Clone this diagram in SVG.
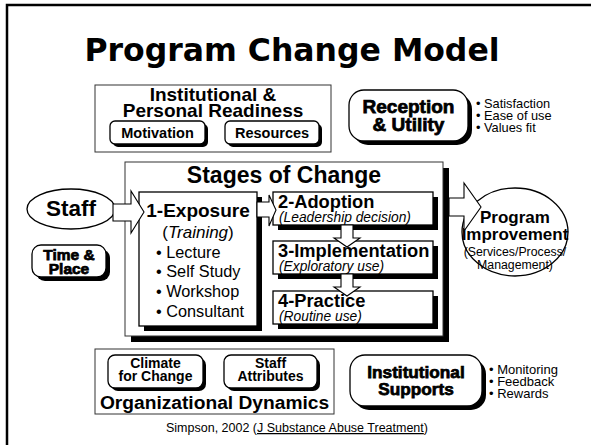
<svg xmlns="http://www.w3.org/2000/svg" width="591" height="445" viewBox="0 0 591 445">
<style>
.box{fill:#fff;stroke:#000;stroke-width:1.3}
.thin{fill:#fff;stroke:#333;stroke-width:1}
.sh{fill:#000}
.arr{fill:#fff;stroke:#000;stroke-width:1.1;stroke-linejoin:miter}
text{font-family:"Liberation Sans",Arial,Helvetica,sans-serif;fill:#000}
.bm{font-weight:bold;text-anchor:middle}
.bs{font-weight:bold;text-anchor:start}
.hv{font-weight:bold;text-anchor:middle;stroke:#000;stroke-width:0.75}
.rm{text-anchor:middle}
.rs{text-anchor:start}
.it{font-style:italic;text-anchor:start}
</style>
<rect width="591" height="445" fill="#fff"/>
<path d="M7,445 V5 H591" fill="none" stroke="#000" stroke-width="2.5"/>
<text x="292" y="61" style="font-family:'DejaVu Sans',Verdana,sans-serif" font-weight="bold" font-size="31.5" text-anchor="middle">Program Change Model</text>

<g id="readiness">
<rect x="95" y="85" width="236" height="67" class="thin"/>
<text x="213" y="101" class="bm" font-size="19">Institutional &amp;</text>
<text x="213" y="117" class="bm" font-size="19">Personal Readiness</text>
<g id="motivation">
<rect x="113" y="124" width="95" height="23" rx="5" class="sh"/>
<rect x="110" y="121" width="95" height="23" rx="5" class="box"/>
<text x="157.5" y="138" class="bm" font-size="14.5">Motivation</text>
</g>
<g id="resources">
<rect x="228" y="124" width="94" height="23" rx="5" class="sh"/>
<rect x="225" y="121" width="94" height="23" rx="5" class="box"/>
<text x="272" y="138" class="bm" font-size="14.5">Resources</text>
</g>
</g>

<g id="reception">
<rect x="353" y="94" width="119" height="51" rx="15" class="sh"/>
<rect x="349" y="90" width="119" height="51" rx="15" class="box"/>
<text x="408.5" y="113" class="hv" font-size="19">Reception</text>
<text x="408.5" y="131" class="hv" font-size="19">&amp; Utility</text>
<text x="476" y="108" class="rs" font-size="12.8">• Satisfaction</text>
<text x="476" y="120" class="rs" font-size="12.8">• Ease of use</text>
<text x="476" y="132" class="rs" font-size="12.8">• Values fit</text>
</g>

<g id="stages">
<rect x="131" y="168" width="318" height="174" class="sh"/>
<rect x="125" y="162" width="318" height="174" class="thin"/>
<text x="284" y="183" class="bm" font-size="23">Stages of Change</text>
</g>

<g id="staff">
<ellipse cx="71" cy="209" rx="44" ry="20" class="box"/>
<text x="71" y="216" class="bm" font-size="22.5">Staff</text>
</g>

<g id="timeplace">
<rect x="36" y="249" width="74" height="32" rx="9" class="sh"/>
<rect x="32" y="245" width="74" height="32" rx="9" class="box"/>
<text x="69" y="260" class="hv" font-size="15.5">Time &amp;</text>
<text x="69" y="274" class="hv" font-size="15.5">Place</text>
</g>

<g id="exposure">
<rect x="144" y="197" width="118" height="134" class="sh"/>
<rect x="139" y="192" width="118" height="134" class="box"/>
<text x="198" y="217" class="bm" font-size="19">1-Exposure</text>
<text x="198" y="238" class="rm" font-size="17">(<tspan font-style="italic">Training</tspan>)</text>
<text x="156" y="258" class="rs" font-size="16.3">• Lecture</text>
<text x="156" y="277" class="rs" font-size="16.3">• Self Study</text>
<text x="156" y="297" class="rs" font-size="16.3">• Workshop</text>
<text x="156" y="317" class="rs" font-size="16.3">• Consultant</text>
</g>

<g id="adoption">
<rect x="278" y="197" width="160" height="33" class="sh"/>
<rect x="273" y="192" width="160" height="33" class="box"/>
<text x="278" y="208" class="bs" font-size="18.3">2-Adoption</text>
<text x="279" y="222" class="it" font-size="13.8">(Leadership decision)</text>
</g>

<g id="implementation">
<rect x="278" y="246" width="160" height="33" class="sh"/>
<rect x="273" y="241" width="160" height="33" class="box"/>
<text x="278" y="257" class="bs" font-size="18.3">3-Implementation</text>
<text x="279" y="271" class="it" font-size="13.8">(Exploratory use)</text>
</g>

<g id="practice">
<rect x="278" y="296" width="160" height="33" class="sh"/>
<rect x="273" y="291" width="160" height="33" class="box"/>
<text x="278" y="307" class="bs" font-size="18.3">4-Practice</text>
<text x="279" y="321" class="it" font-size="13.8">(Routine use)</text>
</g>

<g id="improvement">
<ellipse cx="515" cy="232" rx="53" ry="44" class="box"/>
<text x="515" y="223" class="bm" font-size="17">Program</text>
<text x="515" y="240" class="bm" font-size="17">Improvement</text>
<text x="515" y="256" class="rm" font-size="12.3">(Services/Process/</text>
<text x="515" y="269" class="rm" font-size="12.3">Management)</text>
</g>

<g id="orgdyn">
<rect x="95" y="349" width="239" height="65" class="thin"/>
<g id="climate">
<rect x="111" y="358" width="95" height="33" rx="7" class="sh"/>
<rect x="108" y="355" width="95" height="33" rx="7" class="box"/>
<text x="155.5" y="368" class="bm" font-size="14">Climate</text>
<text x="155.5" y="381" class="bm" font-size="14">for Change</text>
</g>
<g id="attributes">
<rect x="227" y="358" width="93" height="33" rx="7" class="sh"/>
<rect x="224" y="355" width="93" height="33" rx="7" class="box"/>
<text x="270.5" y="368" class="bm" font-size="14">Staff</text>
<text x="270.5" y="381" class="bm" font-size="14">Attributes</text>
</g>
<text x="214.5" y="409" class="bm" font-size="19.2">Organizational Dynamics</text>
</g>

<g id="supports">
<rect x="354" y="359" width="132" height="51" rx="15" class="sh"/>
<rect x="350" y="355" width="132" height="51" rx="15" class="box"/>
<text x="416" y="378" class="hv" font-size="17.2">Institutional</text>
<text x="416" y="395" class="hv" font-size="17.2">Supports</text>
<text x="489" y="374" class="rs" font-size="13">• Monitoring</text>
<text x="489" y="386" class="rs" font-size="13">• Feedback</text>
<text x="489" y="398" class="rs" font-size="13">• Rewards</text>
</g>

<g id="connectors">
<polygon class="arr" points="113,204 131,204 131,191 144,212 131,233 131,221 113,221"/>
<polygon class="arr" points="257,202 269,202 269,195 276,210 269,226 269,217 257,217"/>
<polygon class="arr" points="341,225 353,225 353,238 360,238 347,247 334,238 341,238"/>
<polygon class="arr" points="341,274 353,274 353,287 360,287 347,296 334,287 341,287"/>
<polygon class="arr" points="449,198 464,198 464,183 481,207 464,231 464,216 449,216"/>
</g>

<text x="297" y="432" class="rm" font-size="12.5">Simpson, 2002 (<tspan text-decoration="underline">J Substance Abuse Treatment</tspan>)</text>
</svg>
